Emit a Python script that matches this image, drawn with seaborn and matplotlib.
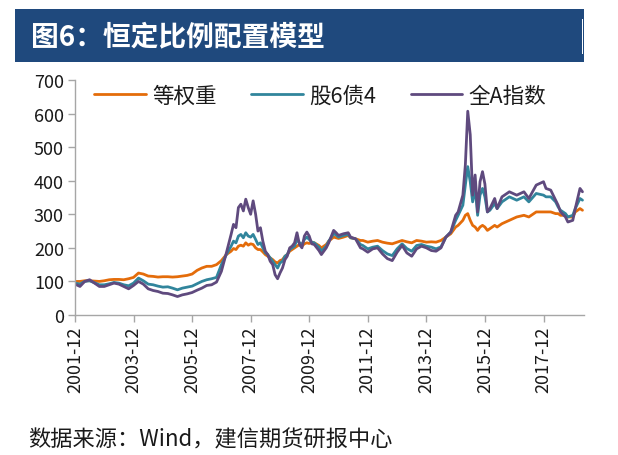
import matplotlib
matplotlib.use("Agg")
import matplotlib.pyplot as plt
import pandas as pd
import seaborn as sns
from matplotlib.patches import Rectangle

# ---------------- data ----------------
dates = [
    "2001-12", "2002-02", "2002-04", "2002-06", "2002-08", "2002-10", "2002-12",
    "2003-02", "2003-04", "2003-06", "2003-08", "2003-10", "2003-12",
    "2004-02", "2004-04", "2004-06", "2004-08", "2004-10", "2004-12",
    "2005-02", "2005-04", "2005-06", "2005-08", "2005-10", "2005-12",
    "2006-02", "2006-04", "2006-06", "2006-08", "2006-10", "2006-12",
    "2007-02", "2007-04", "2007-05", "2007-06", "2007-07", "2007-08", "2007-09",
    "2007-10", "2007-11", "2007-12", "2008-01", "2008-02", "2008-03", "2008-04",
    "2008-05", "2008-06", "2008-07", "2008-08", "2008-09", "2008-10", "2008-11",
    "2008-12", "2009-01", "2009-02", "2009-03", "2009-04", "2009-05", "2009-06",
    "2009-07", "2009-08", "2009-09", "2009-10", "2009-11", "2009-12",
    "2010-01", "2010-02", "2010-04", "2010-05", "2010-07", "2010-08", "2010-10",
    "2010-11", "2010-12", "2011-02", "2011-04", "2011-05", "2011-07", "2011-09",
    "2011-10", "2011-12", "2012-02", "2012-04", "2012-06", "2012-08", "2012-10",
    "2012-12", "2013-02", "2013-04", "2013-06", "2013-08", "2013-10", "2013-12",
    "2014-02", "2014-04", "2014-06", "2014-08", "2014-10", "2014-12",
    "2015-01", "2015-03", "2015-04", "2015-05", "2015-06", "2015-07", "2015-08",
    "2015-09", "2015-10", "2015-11", "2015-12", "2016-01", "2016-02", "2016-04",
    "2016-05", "2016-07", "2016-10", "2017-01", "2017-04", "2017-06", "2017-09",
    "2017-12", "2018-01", "2018-03", "2018-05", "2018-06", "2018-07", "2018-09",
    "2018-10", "2018-12", "2019-01", "2019-03", "2019-04",
]

equal_weight = [
    100, 100, 102, 102, 101, 100, 102,
    105, 106, 106, 105, 108, 112,
    125, 122, 116, 115, 113, 114,
    114, 113, 114, 116, 118, 122,
    133, 140, 145, 145, 150, 162,
    180, 190, 198, 195, 205, 208, 205,
    215, 208, 212, 210, 200, 195, 195,
    188, 180, 175, 170, 165, 158, 155,
    162, 165, 175, 180, 190, 195, 200,
    205, 210, 205, 212, 215, 213,
    217, 215, 207, 200, 210, 220, 232,
    230, 228, 232, 237, 230, 227, 222,
    222, 217, 220, 222, 217, 214, 212,
    217, 222, 218, 215, 222, 220, 217,
    218, 217, 222, 232, 242, 262,
    267, 282, 297, 302, 282, 267, 262,
    252, 262, 267, 262, 252, 257, 267,
    262, 272, 282, 292, 297, 292, 307,
    307, 307, 307, 302, 302, 297, 297,
    292, 292, 307, 317, 312,
]

stock6_bond4 = [
    95, 92, 100, 102, 96, 90, 90,
    93, 97, 95, 90, 87, 95,
    110, 102, 92, 90, 86, 83,
    84, 80, 75, 80, 83, 86,
    93, 100, 105, 108, 112, 150,
    180, 205, 220, 215, 235, 240, 230,
    245, 235, 232, 240, 225, 210, 215,
    200, 185, 180, 170, 160, 150, 140,
    155, 160, 175, 180, 195, 200, 205,
    225, 215, 210, 225, 232, 225,
    217, 215, 202, 190, 205, 220, 242,
    238, 232, 237, 240, 230, 227, 210,
    207, 197, 202, 205, 192, 182, 177,
    197, 212, 198, 190, 207, 210, 205,
    202, 197, 203, 232, 247, 282,
    297, 327, 387, 442, 397, 337, 377,
    297, 357, 377, 352, 307, 312, 332,
    317, 337, 352, 342, 352, 337, 362,
    357, 352, 352, 337, 322, 312, 302,
    292, 297, 317, 347, 342,
]

all_a_index = [
    92, 85, 100, 105, 95, 85, 85,
    90, 95, 92, 85, 78, 88,
    100, 92, 78, 73, 70, 65,
    64, 60, 55, 60, 63, 67,
    74, 80, 88, 90, 98, 130,
    185, 240, 270, 260, 320, 330, 310,
    345, 320, 300, 340, 300, 250, 260,
    220, 190, 180, 160, 150, 120, 108,
    125, 140, 165, 175, 200, 205, 215,
    245, 210, 200, 235, 247, 235,
    212, 210, 192, 180, 200, 215, 252,
    245, 237, 242, 245, 232, 227, 200,
    197, 187, 197, 200, 182, 168, 162,
    187, 207, 185, 175, 197, 205, 200,
    192, 190, 200, 232, 247, 297,
    307, 357, 447, 607, 537, 357, 417,
    307, 397, 427, 390, 307, 317, 347,
    317, 352, 367, 357, 367, 347, 387,
    397, 377, 372, 342, 327, 307, 292,
    277, 282, 317, 377, 367,
]

series_names = ["等权重", "股6债4", "全A指数"]
series_colors = ["#E46C0A", "#31859C", "#5F4A7E"]
tick_labels = ["2001-12", "2003-12", "2005-12", "2007-12", "2009-12",
               "2011-12", "2013-12", "2015-12", "2017-12"]
y_ticks = [0, 100, 200, 300, 400, 500, 600, 700]

title_text = "图6：恒定比例配置模型"
source_text = "数据来源：Wind，建信期货研报中心"

# ---------------- build frame ----------------
frames = []
for name, vals in zip(series_names, [equal_weight, stock6_bond4, all_a_index]):
    frames.append(pd.DataFrame({"date": pd.to_datetime(dates),
                                "value": vals, "series": name}))
df = pd.concat(frames, ignore_index=True)

# ---------------- figure ----------------
sns.set_theme(style="white")
plt.rcParams["font.family"] = ["Noto Sans CJK SC", "DejaVu Sans"]

W, H = 618, 456
fig = plt.figure(figsize=(W / 100, H / 100), dpi=100)
fig.patch.set_facecolor("white")

# title banner
fig.patches.append(Rectangle((15 / W, 1 - 63 / H), (584 - 15) / W, 53 / H,
                             transform=fig.transFigure, facecolor="#1F497D",
                             edgecolor="none", zorder=0))
fig.patches.append(Rectangle((582 / W, 1 - 55 / H), 1.2 / W, 35 / H,
                             transform=fig.transFigure, facecolor="white",
                             edgecolor="none", zorder=1))
fig.text(31 / W, 1 - 37 / H, title_text, color="white", fontsize=20,
         fontweight="bold", va="center", ha="left")

ax = fig.add_axes([75 / W, 1 - 316 / H, (584 - 75) / W, (316 - 81) / H])

sns.lineplot(data=df, x="date", y="value", hue="series",
             hue_order=series_names, palette=series_colors,
             linewidth=2.0, ax=ax)

ax.set_ylim(0, 700)
ax.set_yticks(y_ticks)
ax.set_xlim(pd.Timestamp("2001-12-01"), pd.Timestamp("2019-04-20"))
tick_dates = pd.to_datetime([t + "-01" for t in tick_labels])
ax.set_xticks(tick_dates)
ax.set_xticklabels(tick_labels, rotation=90)
ax.set_xlabel("")
ax.set_ylabel("")

for side in ["top", "right"]:
    ax.spines[side].set_visible(False)
for side in ["left", "bottom"]:
    ax.spines[side].set_color("#A6A6A6")
    ax.spines[side].set_linewidth(1.0)
ax.tick_params(axis="both", which="major", direction="out", length=5,
               width=1.0, color="#A6A6A6", labelsize=13, labelcolor="#1a1a1a",
               left=True, bottom=True, pad=3)

handles, labels = ax.get_legend_handles_labels()
ax.legend(handles, labels, loc="center", bbox_to_anchor=(0.482, 0.932),
          ncol=3, frameon=False, fontsize=15.5, handlelength=2.4,
          handletextpad=0.3, columnspacing=1.6, labelcolor="#1a1a1a")

fig.text(28 / W, 1 - 440 / H, source_text, fontsize=16, style="italic",
         color="#1a1a1a", va="center", ha="left")

fig.savefig("out.png", dpi=100, facecolor="white")
